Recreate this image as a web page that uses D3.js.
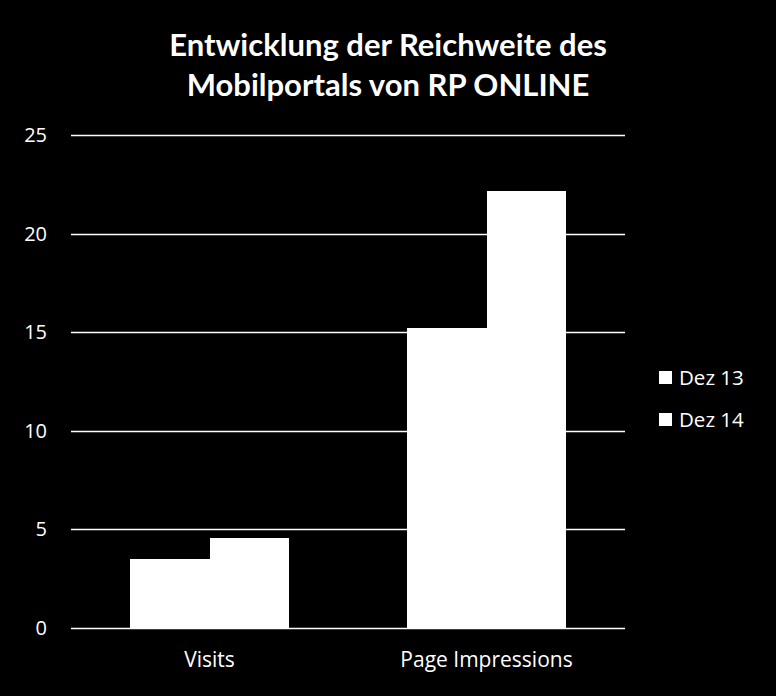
<!DOCTYPE html>
<html><head><meta charset="utf-8">
<script src="https://cdn.jsdelivr.net/npm/d3@7"></script>
<style>html,body{margin:0;padding:0;background:#000;}svg{display:block;}</style>
</head><body>
<script>
const categories = ["Visits", "Page Impressions"];
const seriesNames = ["Dez 13", "Dez 14"];
const dez13 = [3.5, 15.2];
const dez14 = [4.57, 22.17];
const yTicks = [0, 5, 10, 15, 20, 25];
const titleLines = ["Entwicklung der Reichweite des", "Mobilportals von RP ONLINE"];

const W = 776, H = 696;
const m = {left: 71, right: 151, top: 135, bottom: 68};
const font = "'Open Sans', sans-serif";
const titleFont = "Lato, 'Open Sans', sans-serif";
const svg = d3.select("body").append("svg").attr("width", W).attr("height", H).style("background", "#000");

const x0 = d3.scaleBand().domain(categories).range([m.left, W - m.right]).paddingInner(0.426).paddingOuter(0.213);
const x1 = d3.scaleBand().domain(seriesNames).range([0, x0.bandwidth()]);
const y = d3.scaleLinear().domain([0, 25]).range([H - m.bottom, m.top]);

// gridlines
svg.append("g").selectAll("line").data(yTicks).join("line")
  .attr("x1", m.left).attr("x2", W - m.right)
  .attr("y1", d => Math.round(y(d)) + 0.5).attr("y2", d => Math.round(y(d)) + 0.5)
  .attr("stroke", "#fff").attr("stroke-width", 1.5);

// y labels
const yAxis = svg.append("g").attr("transform", `translate(${m.left},0)`)
  .call(d3.axisLeft(y).tickValues(yTicks).tickSize(0).tickPadding(24));
yAxis.select(".domain").remove();
yAxis.selectAll("text").attr("fill", "#fff").style("font-family", font).style("font-size", "20px");

// bars
const series = [dez13, dez14];
const g = svg.append("g").attr("shape-rendering", "crispEdges");
categories.forEach((c, i) => {
  seriesNames.forEach((s, j) => {
    g.append("rect")
      .attr("x", x0(c) + x1(s)).attr("width", x1.bandwidth() + (j === 0 ? 1 : 0))
      .attr("y", y(series[j][i])).attr("height", y(0) - y(series[j][i]))
      .attr("fill", "#fff");
  });
});

// x labels
const xAxis = svg.append("g").attr("transform", `translate(0,${y(0)})`)
  .call(d3.axisBottom(x0).tickSize(0).tickPadding(24));
xAxis.select(".domain").remove();
xAxis.selectAll("text").attr("fill", "#fff").style("font-family", font).style("font-size", "21px");

// title
svg.append("g").selectAll("text").data(titleLines).join("text")
  .attr("x", 388).attr("y", (d, i) => 56 + i * 40)
  .attr("text-anchor", "middle").attr("fill", "#fff")
  .style("font-family", titleFont).style("font-weight", "bold").style("font-size", "31px")
  .text(d => d);

// legend
const leg = svg.append("g").selectAll("g").data(seriesNames).join("g")
  .attr("transform", (d, i) => `translate(659,${371 + i * 42})`);
leg.append("rect").attr("width", 13).attr("height", 13).attr("fill", "#fff");
leg.append("text").attr("x", 20).attr("y", 14).attr("fill", "#fff")
  .style("font-family", font).style("font-size", "20.5px").text(d => d);
</script>
</body></html>
